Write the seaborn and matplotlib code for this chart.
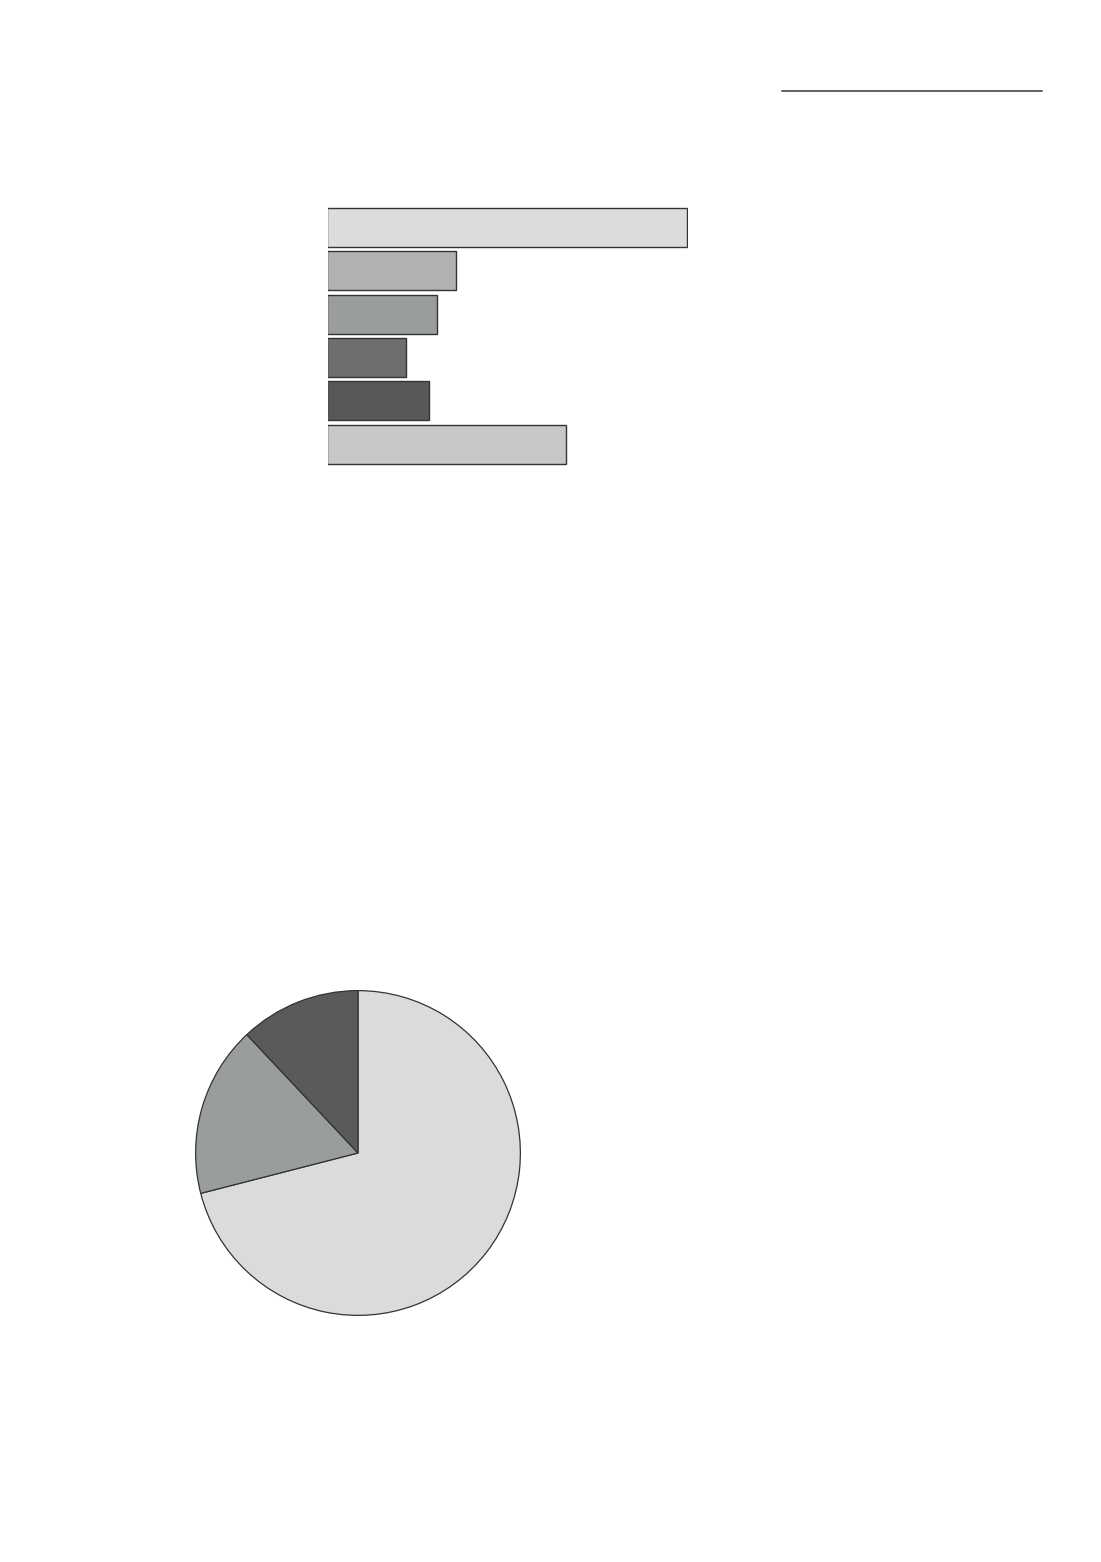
import pandas as pd
import numpy as np
from matplotlib import pyplot as plt
from matplotlib.lines import Line2D
import seaborn as sns

### Data (no labels in the picture)

bar_items = ["a", "b", "c", "d", "e", "f"]
bar_values = [100, 36, 30.5, 22, 28.5, 66.5]
bar_colors = ["#dcdcdc", "#b1b1b4", "#9a9d9e", "#6e6d70", "#58585a", "#c8c8ca"]

pie_values = [71, 17, 12]
pie_colors = ["#dbdbdb", "#9a9d9e", "#5a5a5c"]

bars_df = pd.DataFrame({"Item": bar_items, "Value": bar_values})

sns.set_style("white")

W, H = 1101, 1562
fig = plt.figure(figsize=(W / 100, H / 100), dpi=100)
fig.patch.set_facecolor("white")

# Rule at top right of the page
fig.add_artist(Line2D([782 / W, 1042 / W], [1 - 91 / H, 1 - 91 / H],
                      color="#555555", linewidth=1.3))

### Horizontal bars (left edge clipped off like the original)
ax1 = fig.add_axes([328 / W, 1 - 470 / H, 359.5 / W, 268.5 / H])
sns.barplot(x="Value", y="Item", hue="Item", data=bars_df, palette=bar_colors,
            width=0.9, edgecolor="#333333", linewidth=1.0, legend=False,
            saturation=1, ax=ax1)
ax1.set_xlim(0.35, 100.1)
ax1.set_ylim(5.6, -0.6)
ax1.set_axis_off()

### Pie
ax2 = fig.add_axes([194 / W, 1 - 1317 / H, 328 / W, 328 / H])
ax2.pie(pie_values, colors=pie_colors, startangle=90, counterclock=False,
        wedgeprops={"edgecolor": "#333333", "linewidth": 0.9})
ax2.set_xlim(-1.01, 1.01)
ax2.set_ylim(-1.01, 1.01)
ax2.set_aspect("equal")
ax2.set_axis_off()

fig.savefig("out.png", dpi=100, facecolor="white")
